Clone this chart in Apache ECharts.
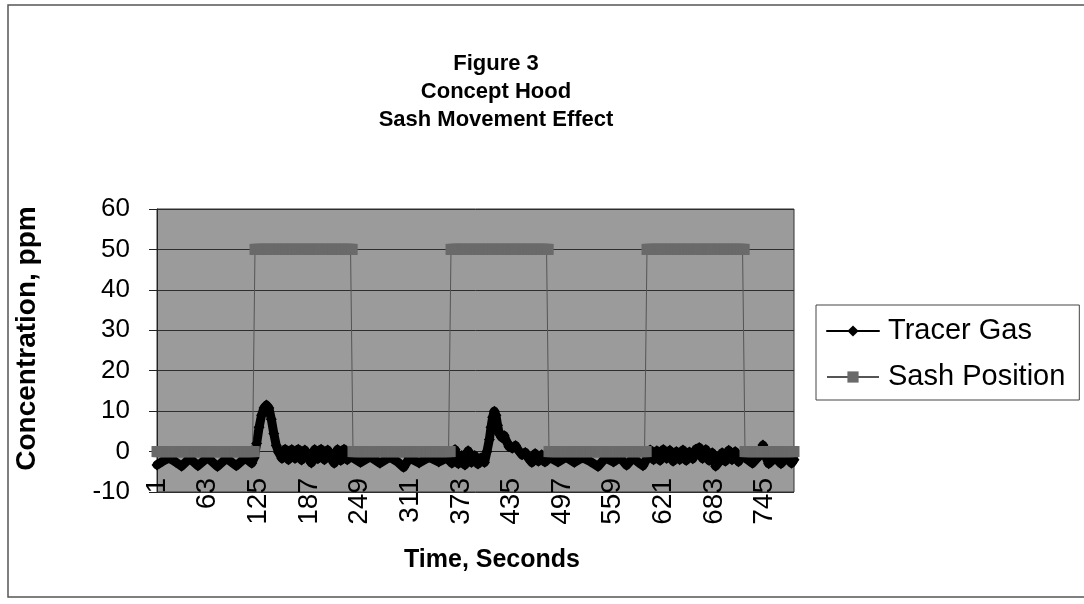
<!DOCTYPE html>
<html>
<head>
<meta charset="utf-8">
<title>Figure 3 - Concept Hood</title>
<script src="https://cdn.jsdelivr.net/npm/echarts@6/dist/echarts.min.js"></script>
<style>
  html, body { margin: 0; padding: 0; background: #fff; }
  #chart { width: 1084px; height: 604px; }
</style>
</head>
<body>
<div id="chart"></div>
<script>
  // time axis ticks (seconds)
  var tickStart = 1
  var tickStep = 62
  var timeEnd = 781

  // sash position: [start second, level]; level holds until the next start
  var sashSteps = [[1, 0], [121, 50], [241, 0], [361, 50], [481, 0], [601, 50], [721, 0]]

  // tracer gas readings (ppm) at the seconds
  var tracerTime = [
    1, 8, 16, 24, 31, 41, 51, 63, 75, 86, 98, 109, 117,
    120, 123, 126, 129, 132, 135, 138, 141, 144, 147, 150,
    154, 158, 162, 166, 170, 174, 178, 182, 186, 190, 194, 198, 202, 206, 210, 214, 218, 222, 226, 230, 234,
    238, 250, 262, 274, 286, 296, 303, 310, 322, 334, 346, 356,
    362, 366, 370, 374, 378, 382, 386, 390, 394, 398, 402, 405, 408, 410, 412, 414, 416, 418, 420, 423, 426,
    429, 432, 436, 440, 444, 448, 452, 456, 460, 464, 468, 472, 476,
    482, 492, 502, 512, 522, 532, 541, 550, 560, 568, 576, 584, 590, 596,
    601, 605, 609, 613, 617, 621, 625, 629, 633, 637, 641, 645, 649, 653, 657, 661, 665, 669, 673, 677,
    681, 685, 689, 693, 697, 701, 705, 709, 713, 717,
    721, 730, 737, 741, 743, 745, 750, 758, 765, 772, 778, 781
  ]
  var tracerValue = [
    -3.3, -2.4, -1.6, -2.6, -3.6, -1.7, -3.5, -1.5, -3.7, -1.7, -3.5, -1.6, -2.9,
    -1.5, 2, 6, 9, 10.8, 11.5, 10.8, 8, 4.5, 1.5, -0.2,
    -1.7, 0.6, -2.0, 0.5, -1.7, 0.6, -2.1, 0.4, -1.6, -2.8, 0.5, -1.8, 0.6, -2.0, 0.4, -1.7, -2.9, 0.5, -2.2, 0.6, -2.0,
    -1.2, -2.7, -1.3, -2.9, -1.4, -2.6, -3.9, -1.6, -2.8, -1.4, -2.6, -1.6,
    -2.9, 0.5, -3.0, -1.0, -3.3, 0.2, -2.7, -1.0, -3.1, -1.5, -2.7, 0, 3, 6, 8.5, 10, 9, 6.5, 4.5, 3.5, 4,
    2.5, 1.2, 0.8, 1.5, 0.2, -0.8, -0.2, -1.7, -2.7, -0.5, -2.4, -0.8, -2.6,
    -1.5, -2.6, -1.4, -2.7, -1.5, -2.5, -3.7, -1.6, -2.6, -1.5, -3.4, -1.6, -2.6, -3.5,
    -1.7, 0.4, -2.0, 0.2, -2.2, 0.5, -1.7, 0.3, -2.4, 0, -2.0, 0.4, -2.2, -0.1, -1.8, 0.6, 1.0, -1.7, 0.5, -2.2,
    -0.3, -3.6, -2.6, -0.3, -2.4, 0.3, -2.0, 0, -2.5, -0.6,
    -1.5, -2.9, -1.4, -0.5, 1.6, -0.5, -3.0, -1.5, -3.0, -1.5, -2.9, -2.0
  ]

  var font = 'Liberation Sans, Arial, sans-serif'

  var tracerData = tracerTime.map(function (t, i) { return [t, tracerValue[i]] })

  // one point per second for the sash step levels
  var sashData = []
  for (var s = 0; s < sashSteps.length; s++) {
    var from = sashSteps[s][0]
    var to = s + 1 < sashSteps.length ? sashSteps[s + 1][0] - 1 : timeEnd
    for (var t = from; t <= to; t++) {
      sashData.push([t, sashSteps[s][1]])
    }
  }

  var chart = echarts.init(document.getElementById('chart'))
  var option = {
    animation: false,
    backgroundColor: '#ffffff',
    textStyle: { fontFamily: font },
    graphic: [{
      type: 'rect',
      shape: { x: 8, y: 5, width: 1200, height: 592 },
      style: { fill: 'none', stroke: '#555', lineWidth: 1.5 },
      silent: true
    }],
    title: {
      text: 'Figure 3\nConcept Hood\nSash Movement Effect',
      left: 491,
      top: 45,
      textAlign: 'center',
      textStyle: { fontFamily: font, fontWeight: 'bold', fontSize: 22, lineHeight: 28, color: '#000' }
    },
    legend: {
      orient: 'vertical',
      left: 816,
      top: 305,
      padding: [11, 14, 8, 10],
      itemWidth: 52,
      itemHeight: 14,
      itemGap: 16,
      borderColor: '#444',
      borderWidth: 1,
      lineStyle: { width: 2 },
      textStyle: { fontFamily: font, fontSize: 29, lineHeight: 30, color: '#000', padding: [0, 0, 0, 4] },
      data: ['Tracer Gas', 'Sash Position']
    },
    grid: {
      left: 157,
      right: 290,
      top: 209,
      bottom: 112,
      show: true,
      backgroundColor: '#9b9b9b',
      borderColor: '#333',
      borderWidth: 1
    },
    xAxis: {
      type: 'value',
      min: tickStart,
      max: timeEnd,
      interval: tickStep,
      name: 'Time, Seconds',
      nameLocation: 'middle',
      nameGap: 56,
      nameTextStyle: { fontFamily: font, fontWeight: 'bold', fontSize: 25, color: '#000', padding: [0, 0, 0, 33] },
      axisLine: { show: true, lineStyle: { color: '#222', width: 1 } },
      axisTick: { show: false },
      splitLine: { show: false },
      axisLabel: {
        rotate: 90,
        margin: -14,
        fontSize: 28,
        color: '#000',
        fontFamily: font,
        showMaxLabel: false
      }
    },
    yAxis: {
      type: 'value',
      min: -10,
      max: 60,
      interval: 10,
      name: 'Concentration, ppm',
      nameLocation: 'middle',
      nameGap: 116,
      nameTextStyle: { fontFamily: font, fontWeight: 'bold', fontSize: 28, color: '#000', padding: [0, 0, 0, 24] },
      axisLine: { show: true, lineStyle: { color: '#222', width: 1 } },
      axisTick: { show: true, length: 8, lineStyle: { color: '#222' } },
      splitLine: { show: true, lineStyle: { color: '#2e2e2e', width: 1 } },
      axisLabel: { margin: 27, fontSize: 26, color: '#000', fontFamily: font }
    },
    series: [
      {
        name: 'Tracer Gas',
        type: 'line',
        data: tracerData,
        symbol: 'diamond',
        symbolSize: 11,
        showAllSymbol: true,
        itemStyle: { color: '#000' },
        lineStyle: { color: '#000', width: 9, join: 'round', cap: 'round' }
      },
      {
        name: 'Sash Position',
        type: 'line',
        data: sashData,
        symbol: 'rect',
        symbolSize: 11,
        showAllSymbol: true,
        itemStyle: { color: '#6a6a6a' },
        lineStyle: { color: '#555', width: 1 }
      }
    ]
  }
  chart.setOption(option)
  window.addEventListener('resize', function () { chart.resize() })
</script>
</body>
</html>
